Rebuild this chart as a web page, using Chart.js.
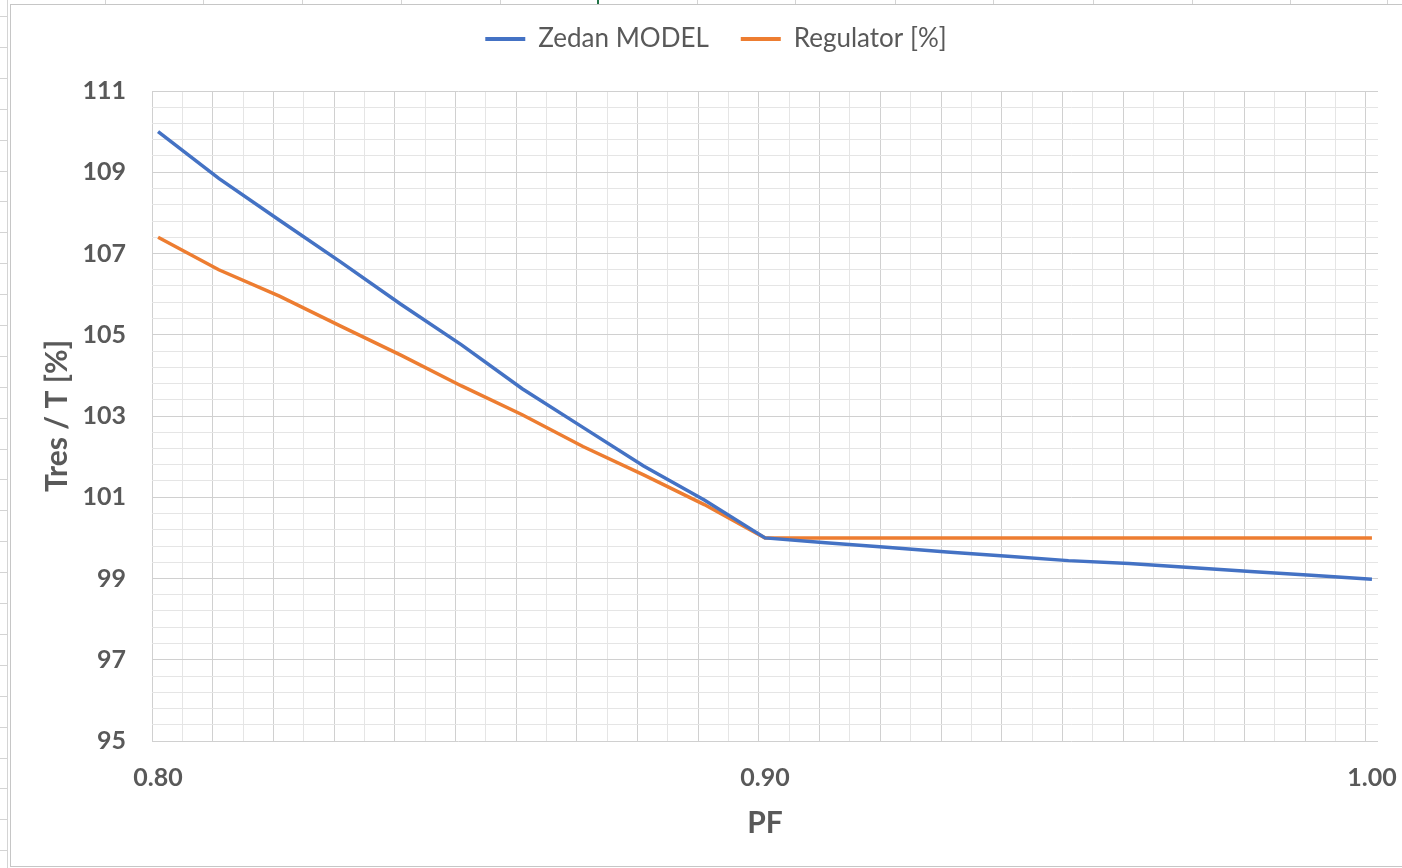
<!DOCTYPE html>
<html>
<head>
<meta charset="utf-8">
<script src="https://cdn.jsdelivr.net/npm/chart.js@4.4.1/dist/chart.umd.min.js"></script>
<style>
  html, body { margin: 0; padding: 0; background: #ffffff; overflow: hidden; }
  #wrap { position: absolute; left: 0; top: 0; width: 1402px; height: 868px; }
</style>
</head>
<body>
<div id="wrap"><canvas id="c" width="1402" height="868"></canvas></div>
<script>
// Power factor samples (x) and the two response curves (y, percent)
const pf = [0.80, 0.81, 0.82, 0.83, 0.84, 0.85, 0.86, 0.87, 0.88, 0.89, 0.90,
            0.91, 0.92, 0.93, 0.94, 0.95, 0.96, 0.97, 0.98, 0.99, 1.00];
const zedanModel = [110.00, 108.85, 107.82, 106.80, 105.75, 104.75, 103.67, 102.72, 101.77, 100.93, 100.00,
                    99.88, 99.77, 99.65, 99.55, 99.44, 99.37, 99.27, 99.17, 99.08, 98.98];
const regulator = [107.40, 106.60, 105.95, 105.22, 104.50, 103.74, 103.03, 102.25, 101.55, 100.82, 100.00,
                   100.00, 100.00, 100.00, 100.00, 100.00, 100.00, 100.00, 100.00, 100.00, 100.00];
const seriesNames = ['Zedan MODEL', 'Regulator [%]'];

// Axis labels
const xTickLabels = ['0.80', '0.90', '1.00'];
const yTickLabels = ['95', '97', '99', '101', '103', '105', '107', '109', '111'];
const xTitle = 'PF';
const yTitle = 'Tres / T [%]';

const FONT = 'Lato, "Open Sans", sans-serif';
const TEXT = '#595959';
const GRID_MAJOR = '#d0d0d0';
const GRID_MINOR = '#e5e5e5';

const xLabelVals = xTickLabels.map(Number);
const yLabelVals = yTickLabels.map(Number);

// Category-style axis: 101 slots of 0.002, gridlines on slot boundaries
const X_MIN = 0.799, X_MAX = 1.001;
const xGridVals = [];
for (let k = 0; k <= 40; k++) xGridVals.push(+(X_MIN + k * 0.005).toFixed(4));
const yGridVals = [];
for (let k = 0; k <= 40; k++) yGridVals.push(+(95 + k * 0.4).toFixed(2));

const near = (a, b) => Math.abs(a - b) < 1e-6;

// Spreadsheet backdrop and chart frame
const backdrop = {
  id: 'backdrop',
  beforeDraw(chart) {
    const c = chart.ctx;
    c.save();
    c.fillStyle = '#ffffff';
    c.fillRect(0, 0, chart.width, chart.height);
    c.strokeStyle = '#d4d4d4';
    c.lineWidth = 1;
    // column separators above the chart
    [105, 203, 302, 401, 500, 697, 795, 895, 993, 1093, 1192, 1290, 1387].forEach(x => {
      c.beginPath(); c.moveTo(x + 0.5, 0); c.lineTo(x + 0.5, 4); c.stroke();
    });
    // row separators left of the chart
    for (let y = 16; y < 868; y += 30.9) {
      c.beginPath(); c.moveTo(0, Math.round(y) + 0.5); c.lineTo(8, Math.round(y) + 0.5); c.stroke();
    }
    c.beginPath(); c.moveTo(7.5, 0); c.lineTo(7.5, 868); c.stroke();
    // selected cell marker
    c.fillStyle = '#217346';
    c.fillRect(597, 0, 2, 4);
    // chart frame
    c.strokeStyle = '#c6c6c6';
    c.strokeRect(10.5, 4.5, 1400, 862);
    c.restore();
  }
};

// Extra room between the legend and the plot area; legend sits a bit right of centre
const legendGap = {
  id: 'legendGap',
  beforeInit(chart) {
    Chart.layouts.addBox(chart, {
      id: 'legendGap', position: 'top', weight: 100, fullSize: true,
      options: { stack: undefined, stackWeight: 1 },
      left: 0, top: 0, right: 0, bottom: 0, width: 0, height: 0,
      update(maxWidth) { this.width = maxWidth; this.height = 29; },
      isHorizontal() { return true; },
      getPadding() { return { left: 0, right: 0, top: 0, bottom: 0 }; },
      draw() {}
    });
  },
  afterLayout(chart) {
    if (chart.legend) { chart.legend.left += 27; chart.legend.right += 27; }
  }
};

new Chart(document.getElementById('c'), {
  type: 'line',
  data: {
    datasets: [
      {
        label: seriesNames[0],
        data: pf.map((x, i) => ({ x, y: zedanModel[i] })),
        borderColor: '#4472C4',
        backgroundColor: '#4472C4',
        borderWidth: 3.5,
        pointRadius: 0,
        tension: 0
      },
      {
        label: seriesNames[1],
        data: pf.map((x, i) => ({ x, y: regulator[i] })),
        borderColor: '#ED7D31',
        backgroundColor: '#ED7D31',
        borderWidth: 3.5,
        pointRadius: 0,
        tension: 0
      }
    ]
  },
  plugins: [backdrop, legendGap],
  options: {
    responsive: false,
    devicePixelRatio: 1,
    animation: false,
    layout: { padding: { left: 0, right: 24, top: -6, bottom: 0 } },
    plugins: {
      legend: {
        position: 'top',
        labels: {
          font: { family: FONT, size: 26 },
          color: TEXT,
          boxWidth: 40,
          boxHeight: 4,
          padding: 32,
          generateLabels(chart) {
            const items = Chart.defaults.plugins.legend.labels.generateLabels(chart);
            items.forEach(it => { it.lineWidth = 0; it.fillStyle = it.strokeStyle; });
            return items;
          }
        }
      },
      tooltip: { enabled: false }
    },
    scales: {
      x: {
        type: 'linear',
        min: X_MIN,
        max: X_MAX,
        afterBuildTicks(scale) {
          const vals = xGridVals.concat(xLabelVals, [X_MAX]).sort((a, b) => a - b);
          scale.ticks = vals.map(v => ({ value: v }));
        },
        afterFit(scale) { scale.height = 127; },
        ticks: {
          autoSkip: false, maxRotation: 0, minRotation: 0,
          padding: 22,
          color: TEXT,
          font: { family: FONT, size: 25, weight: 'bold' },
          callback(value) {
            const i = xLabelVals.findIndex(v => near(v, value));
            return i >= 0 ? xTickLabels[i] : '';
          }
        },
        grid: {
          drawTicks: false,
          lineWidth: 1,
          color(ctx) {
            const v = ctx.tick.value;
            if (v > 1.0005 || xLabelVals.some(l => near(l, v))) return 'rgba(0,0,0,0)';
            const k = Math.round((v - X_MIN) / 0.005);
            return k % 2 === 0 ? GRID_MAJOR : GRID_MINOR;
          }
        },
        border: { display: false },
        title: {
          display: true, text: xTitle, color: TEXT,
          font: { family: FONT, size: 30, weight: 'bold' },
          padding: { top: 0, bottom: 27 }
        }
      },
      y: {
        type: 'linear',
        min: 95,
        max: 111,
        afterBuildTicks(scale) {
          scale.ticks = yGridVals.map(v => ({ value: v }));
        },
        afterFit(scale) { scale.width = 152; },
        ticks: {
          autoSkip: false,
          padding: 26,
          color: TEXT,
          font: { family: FONT, size: 25, weight: 'bold' },
          callback(value) {
            const i = yLabelVals.findIndex(v => near(v, value));
            return i >= 0 ? yTickLabels[i] : '';
          }
        },
        grid: {
          drawTicks: false,
          lineWidth: 1,
          color(ctx) {
            const v = ctx.tick.value;
            return yLabelVals.some(l => near(l, v)) ? GRID_MAJOR : GRID_MINOR;
          }
        },
        border: { display: false },
        title: {
          display: true, text: yTitle, color: TEXT,
          font: { family: FONT, size: 30, weight: 'bold' },
          padding: { top: 39, bottom: 0 }
        }
      }
    }
  }
});
</script>
</body>
</html>
